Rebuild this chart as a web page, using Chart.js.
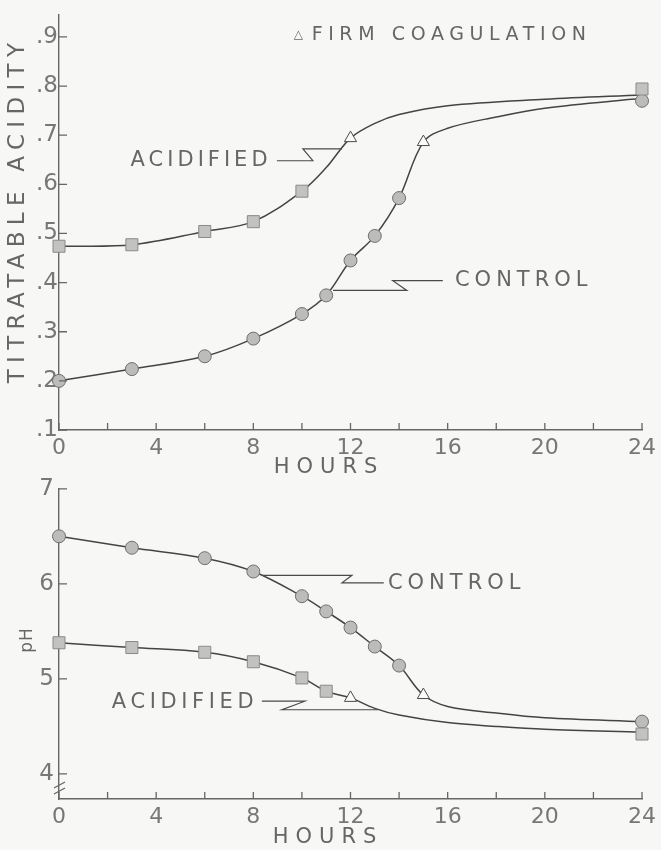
<!DOCTYPE html>
<html>
<head>
<meta charset="utf-8">
<script src="https://cdn.jsdelivr.net/npm/chart.js@4.4.1/dist/chart.umd.min.js"></script>
<style>
body{margin:0;background:#f7f7f5;}
#wrap{position:relative;width:661px;height:850px;}
canvas{position:absolute;left:0;}
</style>
</head>
<body>
<div id="wrap">
<canvas id="ph" width="661" height="380" style="top:470px"></canvas>
<canvas id="acidity" width="661" height="482" style="top:0"></canvas>
</div>
<script>
// titratable acidity, measured points
var taAcidHours = [0, 3, 6, 8, 10, 24];
var taAcidValues = [0.474, 0.477, 0.504, 0.524, 0.586, 0.794];
var taCtrlHours = [0, 3, 6, 8, 10, 11, 12, 13, 14, 24];
var taCtrlValues = [0.200, 0.224, 0.250, 0.286, 0.336, 0.374, 0.445, 0.495, 0.572, 0.770];
var taCoagHours = [12, 15];
var taCoagValues = [0.694, 0.686];
// titratable acidity, hand drawn curves
var taAcidCurveHours = [0, 3, 6, 8, 10, 11, 12, 13, 14, 16, 20, 24];
var taAcidCurveValues = [0.474, 0.477, 0.504, 0.524, 0.586, 0.634, 0.694, 0.724, 0.742, 0.760, 0.773, 0.782];
var taCtrlCurveHours = [0, 3, 6, 8, 10, 11, 12, 13, 14, 15, 16, 18, 20, 24];
var taCtrlCurveValues = [0.200, 0.224, 0.250, 0.286, 0.336, 0.374, 0.445, 0.495, 0.572, 0.686, 0.714, 0.737, 0.755, 0.775];

// pH, measured points
var phAcidHours = [0, 3, 6, 8, 10, 11, 24];
var phAcidValues = [5.38, 5.33, 5.28, 5.18, 5.01, 4.87, 4.42];
var phCtrlHours = [0, 3, 6, 8, 10, 11, 12, 13, 14, 24];
var phCtrlValues = [6.50, 6.38, 6.27, 6.13, 5.87, 5.71, 5.54, 5.34, 5.14, 4.55];
var phCoagHours = [12, 15];
var phCoagValues = [4.80, 4.83];
// pH curves
var phAcidCurveHours = [0, 3, 6, 8, 10, 11, 12, 13, 14, 16, 18, 20, 24];
var phAcidCurveValues = [5.38, 5.33, 5.28, 5.18, 5.01, 4.87, 4.80, 4.69, 4.62, 4.54, 4.50, 4.47, 4.44];
var phCtrlCurveHours = [0, 3, 6, 8, 10, 11, 12, 13, 14, 15, 16, 18, 20, 24];
var phCtrlCurveValues = [6.50, 6.38, 6.27, 6.13, 5.87, 5.71, 5.54, 5.34, 5.14, 4.83, 4.71, 4.64, 4.59, 4.55];

// ticks
var hourTicks = [0, 2, 4, 6, 8, 10, 12, 14, 16, 18, 20, 22, 24];
var hourLabels = [0, 4, 8, 12, 16, 20, 24];
var taTicks = [0.1, 0.2, 0.3, 0.4, 0.5, 0.6, 0.7, 0.8, 0.9];
var phTicks = [4, 5, 6, 7];

var ink = '#666';
var fam = '"DejaVu Sans", sans-serif';

function pts(xs, ys){
  return xs.map(function(x, i){ return {x: x, y: ys[i]}; });
}

function curve(xs, ys){
  return {
    data: pts(xs, ys), showLine: true, pointRadius: 0,
    borderColor: '#444', borderWidth: 1.5,
    tension: 0.35, order: 2
  };
}

function marks(xs, ys, style){
  var d = {data: pts(xs, ys), showLine: false, order: 1, pointStyle: style,
    pointBorderWidth: 1, pointHoverRadius: 6};
  if(style == 'circle'){
    d.pointRadius = 6.5; d.pointBackgroundColor = '#bcbcbc'; d.pointBorderColor = '#6e6e6e';
  } else if(style == 'rect'){
    d.pointRadius = 8.5; d.pointBackgroundColor = '#c2c2c2'; d.pointBorderColor = '#8a8a8a';
  } else {
    d.pointRadius = 7; d.pointBackgroundColor = '#fbfbfb'; d.pointBorderColor = '#4a4a4a';
  }
  return d;
}

function txt(ctx, s, x, y, size, spacing, align, rot){
  ctx.save();
  ctx.translate(x, y);
  if(rot) ctx.rotate(rot);
  ctx.font = size + 'px ' + fam;
  ctx.letterSpacing = spacing + 'px';
  ctx.fillStyle = ink;
  ctx.textAlign = align || 'left';
  ctx.textBaseline = 'middle';
  ctx.fillText(s, 0, 0);
  ctx.restore();
}

var decor = {
  id: 'decor',
  afterDraw: function(chart, args, o){
    var ctx = chart.ctx, xs = chart.scales.x, ys = chart.scales.y;
    var a = chart.chartArea;
    ctx.save();
    ctx.strokeStyle = '#666';
    ctx.lineWidth = 1.3;
    // inward ticks
    ctx.beginPath();
    hourTicks.forEach(function(h){
      var px = xs.getPixelForValue(h);
      ctx.moveTo(px, a.bottom); ctx.lineTo(px, a.bottom - 7);
    });
    o.yTicks.forEach(function(v){
      var py = ys.getPixelForValue(v);
      ctx.moveTo(a.left, py); ctx.lineTo(a.left + 8, py);
    });
    ctx.stroke();
    // axis break
    if(o.brk){
      ctx.beginPath();
      [a.bottom - 14, a.bottom - 8].forEach(function(py){
        ctx.moveTo(a.left - 5, py + 3); ctx.lineTo(a.left + 6, py - 3);
      });
      ctx.stroke();
    }
    // leaders
    ctx.strokeStyle = '#4a4a4a';
    ctx.lineWidth = 1.2;
    o.notes.forEach(function(n){
      if(n.leader){
        ctx.beginPath();
        n.leader.forEach(function(p, i){
          var px = xs.getPixelForValue(p[0]), py = ys.getPixelForValue(p[1]);
          if(i == 0) ctx.moveTo(px, py); else ctx.lineTo(px, py);
        });
        ctx.stroke();
      }
      txt(ctx, n.text, xs.getPixelForValue(n.x), ys.getPixelForValue(n.y), n.size, n.spacing, n.align);
    });
    ctx.restore();
    txt(ctx, 'HOURS', o.hoursX, o.hoursY, 21, 7, 'center');
    txt(ctx, o.yTitle, o.yTitleX, o.yTitleY, o.yTitleSize, o.yTitleSpacing, 'center', -Math.PI / 2);
  }
};

function axes(yMin, yMax, yTickList, yFmt, xPad, xH, yPad){
  return {
    x: {
      type: 'linear', min: 0, max: 24,
      afterBuildTicks: function(s){ s.ticks = hourLabels.map(function(v){ return {value: v}; }); },
      afterFit: function(s){ s.height = xH; },
      grid: {display: false, drawTicks: false},
      border: {display: true, color: '#666', width: 1.4},
      ticks: {color: '#777', padding: xPad, font: {family: fam, size: 22}, maxRotation: 0}
    },
    y: {
      type: 'linear', min: yMin, max: yMax,
      afterBuildTicks: function(s){ s.ticks = yTickList.map(function(v){ return {value: v}; }); },
      afterFit: function(s){ s.width = 59; },
      grid: {display: false, drawTicks: false},
      border: {display: true, color: '#666', width: 1.4},
      ticks: {color: '#777', padding: yPad, font: {family: fam, size: 23}, callback: yFmt}
    }
  };
}

new Chart('acidity', {
  type: 'scatter',
  data: {datasets: [
    curve(taAcidCurveHours, taAcidCurveValues),
    curve(taCtrlCurveHours, taCtrlCurveValues),
    marks(taAcidHours, taAcidValues, 'rect'),
    marks(taCtrlHours, taCtrlValues, 'circle'),
    marks(taCoagHours, taCoagValues, 'triangle')
  ]},
  options: {
    responsive: false, animation: false, devicePixelRatio: 1,
    clip: false,
    layout: {padding: {top: 9, right: 18, left: 0, bottom: 0}},
    scales: axes(0.1, 0.945, taTicks, function(v){ return '.' + Math.round(v * 10); }, 5, 52, 1),
    plugins: {
      legend: {display: false}, tooltip: {enabled: false},
      decor: {
        yTicks: taTicks, brk: false,
        hoursX: 329, hoursY: 468,
        yTitle: 'TITRATABLE ACIDITY', yTitleX: 18, yTitleY: 210, yTitleSize: 23, yTitleSpacing: 6.3,
        notes: [
          {text: '\u25B3', x: 9.85, y: 0.904, size: 12, spacing: 0, align: 'center'},
          {text: 'FIRM COAGULATION', x: 10.4, y: 0.904, size: 19, spacing: 5.6},
          {text: 'ACIDIFIED', x: 8.75, y: 0.648, size: 21, spacing: 4, align: 'right',
            leader: [[8.97, 0.648], [10.45, 0.648], [10.04, 0.672], [11.65, 0.672]]},
          {text: 'CONTROL', x: 16.3, y: 0.404, size: 21, spacing: 5,
            leader: [[11.28, 0.384], [14.32, 0.384], [13.74, 0.404], [15.8, 0.404]]}
        ]
      }
    }
  },
  plugins: [decor]
});

new Chart('ph', {
  type: 'scatter',
  data: {datasets: [
    curve(phAcidCurveHours, phAcidCurveValues),
    curve(phCtrlCurveHours, phCtrlCurveValues),
    marks(phAcidHours, phAcidValues, 'rect'),
    marks(phCtrlHours, phCtrlValues, 'circle'),
    marks(phCoagHours, phCoagValues, 'triangle')
  ]},
  options: {
    responsive: false, animation: false, devicePixelRatio: 1,
    clip: false,
    layout: {padding: {top: 8, right: 18, left: 0, bottom: 0}},
    scales: axes(3.736, 7, phTicks, function(v){ return '' + v; }, 5, 51, 5),
    plugins: {
      legend: {display: false}, tooltip: {enabled: false},
      decor: {
        yTicks: phTicks, brk: true,
        hoursX: 328, hoursY: 368,
        yTitle: 'pH', yTitleX: 28, yTitleY: 170, yTitleSize: 17, yTitleSpacing: 1,
        notes: [
          {text: 'CONTROL', x: 13.54, y: 6.0, size: 21, spacing: 5,
            leader: [[8.35, 6.09], [12.06, 6.09], [11.65, 6.01], [13.37, 6.01]]},
          {text: 'ACIDIFIED', x: 8.2, y: 4.756, size: 21, spacing: 4.6, align: 'right',
            leader: [[8.35, 4.765], [10.12, 4.765], [9.18, 4.675], [13.13, 4.675]]}
        ]
      }
    }
  },
  plugins: [decor]
});
</script>
</body>
</html>
